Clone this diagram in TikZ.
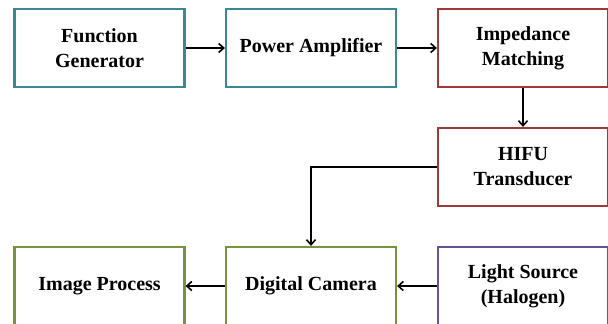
\documentclass[tikz,border=0pt]{standalone}
\usepackage{fontspec}
\setmainfont{Liberation Serif}[BoldFont=Liberation Serif Bold]
\usetikzlibrary{arrows.meta}
\definecolor{aqua}{RGB}{58,135,152}
\definecolor{brick}{RGB}{155,58,56}
\definecolor{olive}{RGB}{119,147,60}
\definecolor{violet}{RGB}{104,82,150}
\begin{document}
\begin{tikzpicture}[x=1pt,y=1pt,
		blk/.style={draw,line width=2.2pt,fill=white,minimum width=170pt,minimum height=78pt,inner sep=0pt,align=center,font=\rmfamily\fontsize{20}{25}\selectfont\bfseries},
		lnk/.style={line width=1.6pt,-{Straight Barb[length=5pt,width=9pt]}}]
		\useasboundingbox (0,0) rectangle (608,324);
		% top row
		\node[blk,draw=aqua] (gen) at (99.5,276) {Function\\Generator};
		\node[blk,draw=aqua] (amp) at (311,276) {Power Amplifier};
		\node[blk,draw=brick] (imp) at (523,276) {Impedance\\Matching};
		% transducer
		\node[blk,draw=brick] (hifu) at (523,157) {HIFU\\Transducer};
		% bottom row
		\node[blk,draw=olive] (img) at (99.5,38) {Image Process};
		\node[blk,draw=olive] (cam) at (311,38) {Digital Camera};
		\node[blk,draw=violet] (light) at (523,38) {Light Source\\(Halogen)};
		\draw[lnk] (gen) -- (amp);
		\draw[lnk] (amp) -- (imp);
		\draw[lnk] (imp) -- (hifu);
		\draw[lnk] (hifu.west) -| (cam.north);
		\draw[lnk] (cam) -- (img);
		\draw[lnk] (light) -- (cam);
	\end{tikzpicture}
\end{document}
